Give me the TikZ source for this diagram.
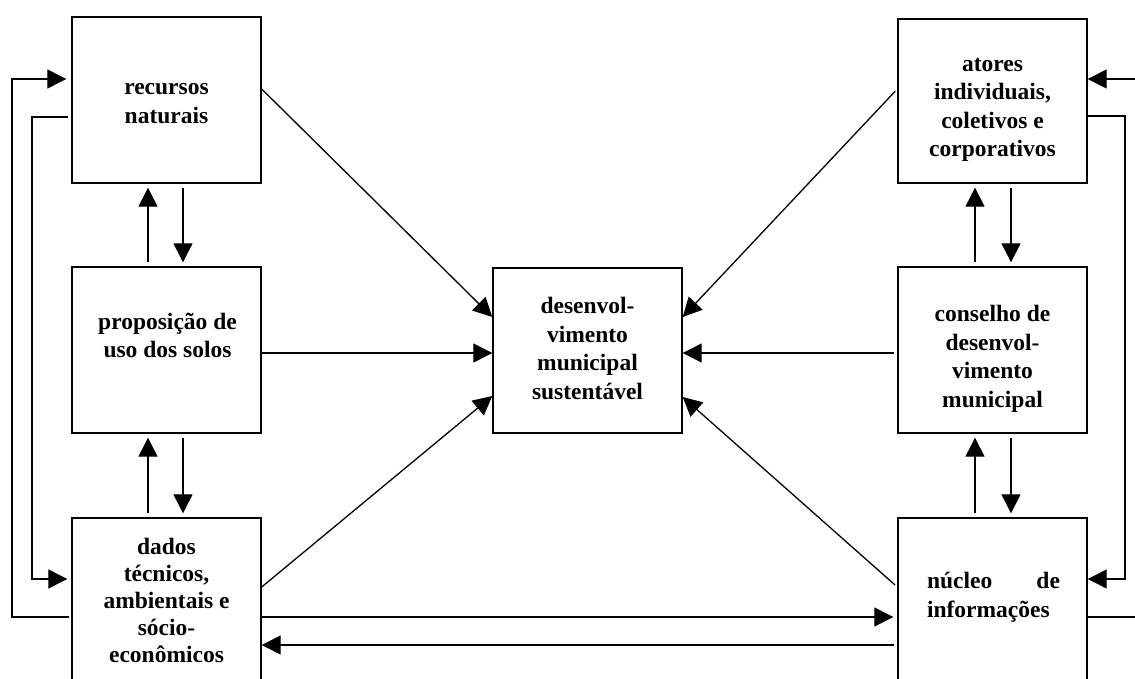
\documentclass[tikz,border=0pt]{standalone}
\usepackage{fontspec}
\setmainfont{Liberation Serif}
\usetikzlibrary{arrows.meta}
\begin{document}
\begin{tikzpicture}[x=1pt,y=-1pt,
  box/.style={draw, line width=1.4pt, minimum width=189pt, inner sep=0pt, rectangle},
  txt/.style={font=\fontsize{23.5}{28.5}\selectfont\bfseries, align=center, inner sep=0pt, anchor=north, execute at begin node=\strut},
  conn/.style={line width=1.3pt},
  arr/.style={conn, -{Triangle[length=19pt,width=19pt]}},
  gap/.style={shorten <=4pt, shorten >=4pt}
]
\useasboundingbox (0,0) rectangle (1135,679);
\clip (0,0) rectangle (1135,679);
% boxes
\node[box, minimum height=166pt] (rec)  at (166.5,100) {};
\node[box, minimum height=166pt] (prop) at (166.5,350) {};
\node[box, minimum height=200pt] (dad)  at (166.5,618) {};
\node[box, minimum height=165pt] (dsm)  at (587.5,350.5) {};
\node[box, minimum height=164pt] (ato)  at (992.5,101) {};
\node[box, minimum height=166pt] (con)  at (992.5,350) {};
\node[box, minimum height=200pt] (nuc)  at (992.5,618) {};
% texts
\node[txt] (trec)  at (166.5,83.5)  {recursos\\naturais};
\node[txt] (tprop) at (167.5,312.5) {proposição de\\uso dos solos};
\node[txt, font=\fontsize{23.5}{27.2}\selectfont\bfseries] (tdad) at (166.5,537.5) {dados\\técnicos,\\ambientais e\\sócio-\\econômicos};
\node[txt] (tdsm)  at (587.5,297)   {desenvol-\\vimento\\municipal\\sustentável};
\node[txt] (tato)  at (992.5,58)    {atores\\individuais,\\coletivos e\\corporativos};
\node[txt] (tcon)  at (992.5,305)   {conselho de\\desenvol-\\vimento\\municipal};
\node[txt, align=left, text width=133pt] (tnuc) at (993.5,568.5) {núcleo\hfill de\\informações};
% vertical arrows, left column
\draw[arr, gap] (148,0 |- prop.north) -- (148,0 |- rec.south);
\draw[arr, gap] (183,0 |- rec.south) -- (183,0 |- prop.north);
\draw[arr, gap] (148,0 |- dad.north) -- (148,0 |- prop.south);
\draw[arr, gap] (183,0 |- prop.south) -- (183,0 |- dad.north);
% vertical arrows, right column
\draw[arr, gap] (975,0 |- con.north) -- (975,0 |- ato.south);
\draw[arr, gap] (1011,0 |- ato.south) -- (1011,0 |- con.north);
\draw[arr, gap] (975,0 |- nuc.north) -- (975,0 |- con.south);
\draw[arr, gap] (1011,0 |- con.south) -- (1011,0 |- nuc.north);
% arrows into the centre
\draw[arr] (rec.east |- 0,89) -- (dsm.west |- 0,317);
\draw[arr] (prop.east |- 0,353) -- (dsm.west |- 0,353);
\draw[arr] (dad.east |- 0,587) -- (dsm.west |- 0,396);
\draw[arr, shorten <=3pt] (ato.west |- 0,89) -- (dsm.east |- 0,317);
\draw[arr, shorten <=3pt] (con.west |- 0,353) -- (dsm.east |- 0,353);
\draw[arr, shorten <=3pt] (nuc.west |- 0,587) -- (dsm.east |- 0,397);
% bottom exchange
\draw[arr, shorten >=4pt] (dad.east |- 0,617) -- (nuc.west |- 0,617);
\draw[arr, shorten <=3pt] (nuc.west |- 0,645) -- (dad.east |- 0,645);
% left loops
\draw[arr, shorten <=2pt, shorten >=5pt] (dad.west |- 0,617) -| (12,79) -- (rec.west |- 0,79);
\draw[arr, shorten <=3pt, shorten >=4pt] (rec.west |- 0,117) -| (32,579) -- (dad.west |- 0,579);
% right loops
\draw[arr] (ato.east |- 0,116) -| (1125,579) -- (nuc.east |- 0,579);
\draw[arr] (nuc.east |- 0,617) -| (1150,79) -- (ato.east |- 0,79);
\end{tikzpicture}
\end{document}
